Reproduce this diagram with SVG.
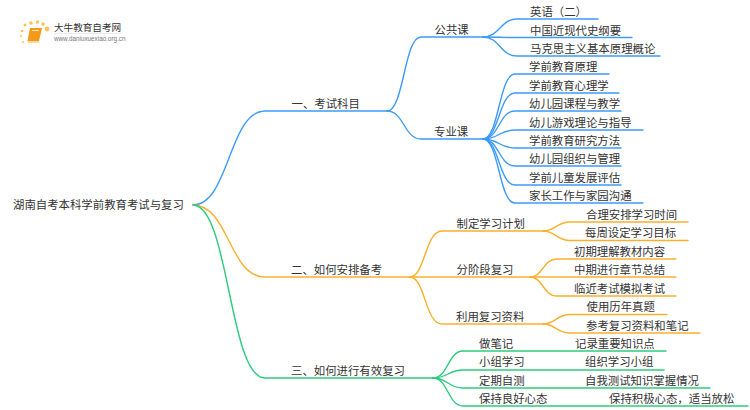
<svg xmlns="http://www.w3.org/2000/svg" width="750" height="410" viewBox="0 0 750 410">
<style>
text{font-family:"Noto Sans CJK SC","Liberation Sans",sans-serif;font-size:11.4px;fill:#333}
.c{fill:none;stroke-width:1.4;stroke-linecap:round}
.b{stroke:#3d9bfb}.o{stroke:#fbb02d}.g{stroke:#2ccb7f}
</style>
<rect width="750" height="410" fill="#fff"/>
<g id="logo">
<g fill="#fbc458"><circle cx="47" cy="29" r="2.400"/><circle cx="43" cy="24" r="1.800"/><circle cx="37.500" cy="22" r="1.800"/><circle cx="31" cy="23" r="1.800"/><circle cx="25" cy="25" r="1.500"/><circle cx="22" cy="31" r="1.300"/><circle cx="21" cy="36" r="1"/><circle cx="23" cy="42" r="1"/></g>
<path d="M30 28H42L39 41H27.500Z" fill="#f49a1a"/><path d="M27.500 41H39L38.500 43H28Z" fill="#fcd9a0"/><path d="M32 30.500H39" stroke="#fde3b8" stroke-width="1"/>
<text x="54" y="30.500" style="font-size:9.600px">大牛教育自考网</text>
<path d="M54 33.500H121" stroke="#ddd" stroke-width=".6"/>
<text x="54" y="41" style="font-family:'Liberation Sans',sans-serif;font-size:6.300px;fill:#777">www.daniuxuexiao.org.cn</text>
</g>
<g id="connectors">
<g>
<path class="c b" d="M193 205C229 205 229 111 265 111H387"/>
<path class="c b" d="M387 111C404 111 404 37 421 37H483"/>
<path class="c b" d="M387 111C404 111 404 139 421 139H483"/>
<path class="c b" d="M483 37C500 37 500 19 517 19H598"/>
<path class="c b" d="M483 37C500 37 500 37.500 517 37.500H632"/>
<path class="c b" d="M483 37C500 37 500 56 517 56H660"/>
<path class="c b" d="M483 139C499 139 499 74 515 74H609"/>
<path class="c b" d="M483 139C499 139 499 93 515 93H619"/>
<path class="c b" d="M483 139C499 139 499 111 515 111H621"/>
<path class="c b" d="M483 139C499 139 499 130 515 130H643"/>
<path class="c b" d="M483 139C499 139 499 148 515 148H621"/>
<path class="c b" d="M483 139C499 139 499 166 515 166H621"/>
<path class="c b" d="M483 139C499 139 499 185 515 185H621"/>
<path class="c b" d="M483 139C499 139 499 203 515 203H643"/>
</g>
<g>
<path class="c o" d="M193 205C229 205 229 277 265 277H410"/>
<path class="c o" d="M410 277C425 277 425 231 442 231H543"/>
<path class="c o" d="M410 277H530"/>
<path class="c o" d="M410 277C425 277 425 324 442 324H543"/>
<path class="c o" d="M543 231C556 231 556 222 570 222H688"/>
<path class="c o" d="M543 231C556 231 556 240.500 570 240.500H688"/>
<path class="c o" d="M530 277C543 277 543 259 557 259H676"/>
<path class="c o" d="M530 277H676"/>
<path class="c o" d="M530 277C543 277 543 296 557 296H676"/>
<path class="c o" d="M543 324C556 324 556 314.500 570 314.500H667"/>
<path class="c o" d="M543 324C556 324 556 333 570 333H700"/>
</g>
<g>
<path class="c g" d="M193 205C229 205 229 378 265 378H433"/>
<path class="c g" d="M433 378C448 378 448 351 463 351H666"/>
<path class="c g" d="M433 378C448 378 448 370 463 370H664"/>
<path class="c g" d="M433 378C448 378 448 388 463 388H710"/>
<path class="c g" d="M433 378C448 378 448 406 463 406H748"/>
</g>
</g>
<g id="root"><text x="13" y="209">湖南自考本科学前教育考试与复习</text></g>
<g id="n1"><text x="291.500" y="108">一、考试科目</text></g>
<g id="n2"><text x="291" y="274">二、如何安排备考</text></g>
<g id="n3"><text x="291" y="375">三、如何进行有效复习</text></g>
<g id="n11"><text x="434.500" y="34">公共课</text></g>
<g id="n12"><text x="434" y="136">专业课</text></g>
<g id="n111"><text x="530" y="16">英语（二）</text></g>
<g id="n112"><text x="530" y="34.500">中国近现代史纲要</text></g>
<g id="n113"><text x="530" y="53">马克思主义基本原理概论</text></g>
<g id="n121"><text x="529" y="71">学前教育原理</text></g>
<g id="n122"><text x="529" y="90">学前教育心理学</text></g>
<g id="n123"><text x="529" y="108">幼儿园课程与教学</text></g>
<g id="n124"><text x="529" y="126.500">幼儿游戏理论与指导</text></g>
<g id="n125"><text x="529" y="145">学前教育研究方法</text></g>
<g id="n126"><text x="529" y="163">幼儿园组织与管理</text></g>
<g id="n127"><text x="529" y="182">学前儿童发展评估</text></g>
<g id="n128"><text x="529" y="200">家长工作与家园沟通</text></g>
<g id="n21"><text x="456.500" y="228">制定学习计划</text></g>
<g id="n22"><text x="456.500" y="274">分阶段复习</text></g>
<g id="n23"><text x="456" y="321">利用复习资料</text></g>
<g id="n211"><text x="586" y="219">合理安排学习时间</text></g>
<g id="n212"><text x="585" y="237">每周设定学习目标</text></g>
<g id="n221"><text x="574" y="256">初期理解教材内容</text></g>
<g id="n222"><text x="574" y="274">中期进行章节总结</text></g>
<g id="n223"><text x="574" y="293">临近考试模拟考试</text></g>
<g id="n231"><text x="586.500" y="311">使用历年真题</text></g>
<g id="n232"><text x="586" y="330">参考复习资料和笔记</text></g>
<g id="n31"><text x="479" y="348">做笔记</text><text x="575" y="348">记录重要知识点</text></g>
<g id="n32"><text x="479" y="366">小组学习</text><text x="585" y="366">组织学习小组</text></g>
<g id="n33"><text x="479" y="385">定期自测</text><text x="585" y="385">自我测试知识掌握情况</text></g>
<g id="n34"><text x="479" y="403">保持良好心态</text><text x="609" y="403">保持积极心态，适当放松</text></g>
</svg>
